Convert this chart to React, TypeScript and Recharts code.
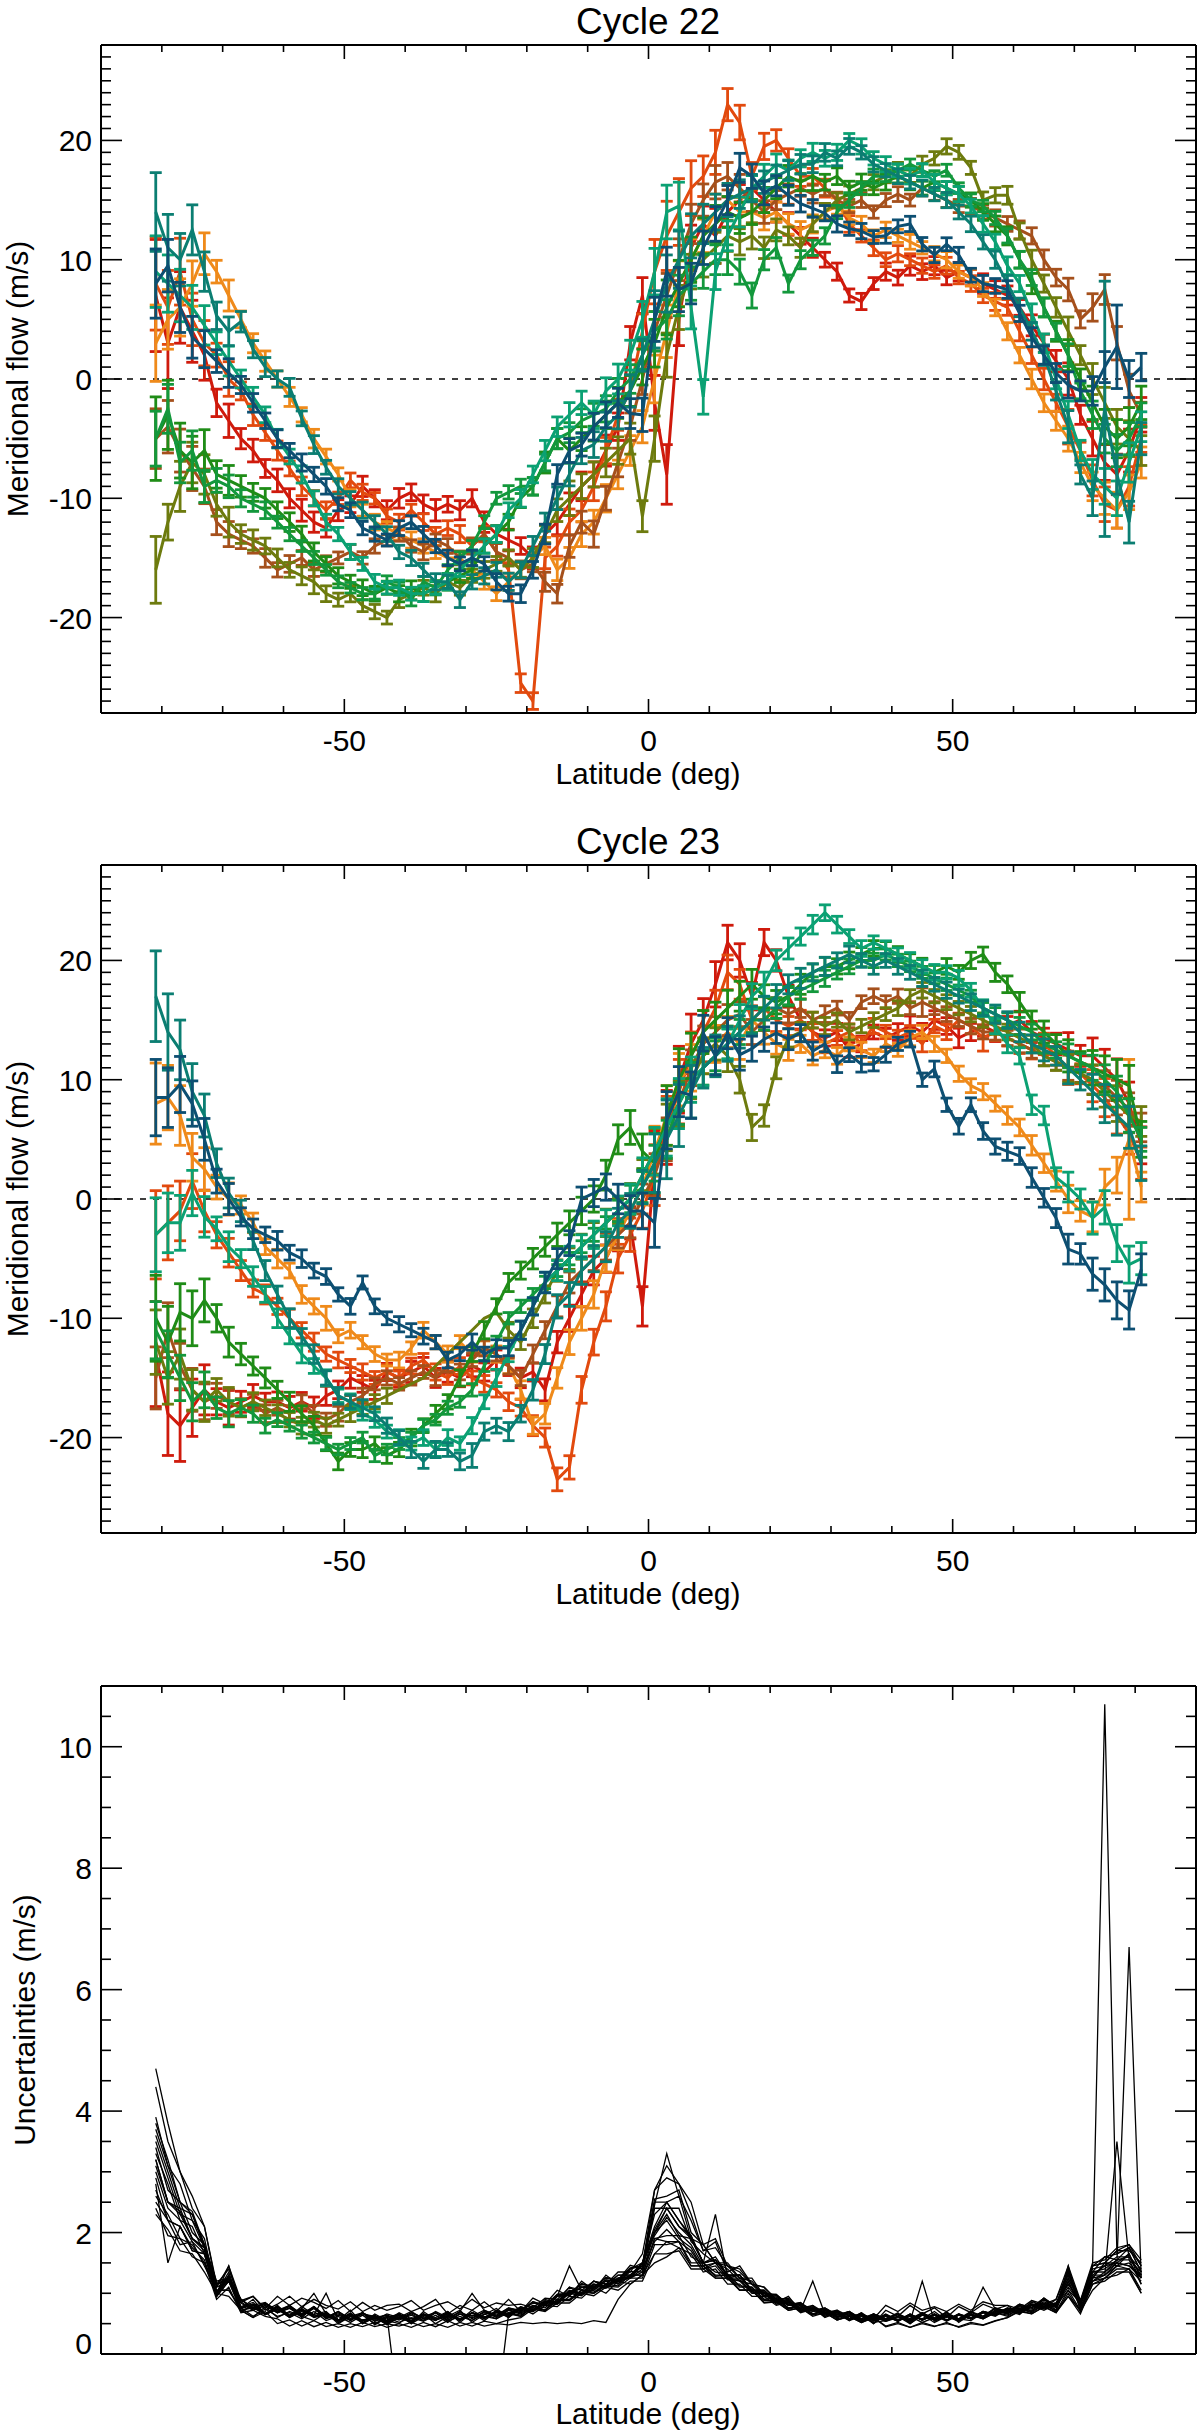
import React from 'react';
import { LineChart, Line, XAxis, YAxis, ErrorBar, ReferenceLine } from 'recharts';

const FONT = '"Liberation Sans", Arial, Helvetica, sans-serif';

const LATITUDES = [
  -81, -79, -77, -75, -73, -71, -69, -67, -65, -63,
  -61, -59, -57, -55, -53, -51, -49, -47, -45, -43,
  -41, -39, -37, -35, -33, -31, -29, -27, -25, -23,
  -21, -19, -17, -15, -13, -11, -9, -7, -5, -3,
  -1, 1, 3, 5, 7, 9, 11, 13, 15, 17,
  19, 21, 23, 25, 27, 29, 31, 33, 35, 37,
  39, 41, 43, 45, 47, 49, 51, 53, 55, 57,
  59, 61, 63, 65, 67, 69, 71, 73, 75, 77,
  79, 81,
];

// ---------- Cycle 22 meridional flow (m/s) ----------
const C22_RED = [
  7, 3, 6, 4, 2, -2, -3.5, -5, -6, -7.5,
  -8.5, -10, -11, -12, -12.5, -11, -10.5, -9, -10, -11,
  -10, -9.5, -10.5, -11, -10.5, -11, -10, -12, -13, -13.5,
  -14, -15, -13, -12, -10.5, -9, -8, -6, -4, 3,
  7, -2, -8, 5, 11, 13, 12, 14, 15, 16,
  15, 14, 13, 12, 11, 10, 9, 7, 6.5, 8,
  9, 8.5, 9.5, 9, 9.5, 8.5, 9, 8.5, 8, 7.5,
  7, 6, 4.5, 3, 1.5, 0, -3, -5, -7, -8,
  -6, -3,
];
const C22_ORANGERED = [
  8, 6, 9, 5, 3, 2, 0, -1, -3, -4.5,
  -6, -7.5, -9, -10, -11, -10, -8.5, -9.5, -10, -11.5,
  -12, -11, -12, -13, -12.5, -13, -14, -13, -14.5, -16,
  -25.5, -27, -15, -14, -12, -11, -9, -6, -3, -1,
  4, 9, 12, 14, 16, 17, 19, 23, 21.5, 17,
  19.5, 20, 18.5, 17, 17, 16, 15, 13, 12, 11,
  10, 10.5, 10, 9.5, 9, 9.5, 8.5, 8, 7, 6.5,
  6, 4, 2, 0, -2, -4, -6, -8.5, -10.5, -11,
  -9, -5,
];
const C22_ORANGE = [
  3, 5, 6, 8, 10.5, 9, 7, 5, 3, 1.5,
  0, -1.5, -3, -5, -6.5, -8, -10, -11, -12, -12.5,
  -13, -13.5, -14, -14.5, -15, -15, -16, -17, -18, -17,
  -16, -15, -14, -16, -15, -13, -12, -10, -8, -6,
  -4, 0, 4, 8, 10, 12, 14, 15, 14, 14,
  13.5, 14, 13, 12.5, 13, 14, 14.5, 13.5, 13, 12,
  12.5, 12, 11.5, 11, 10.5, 10, 9, 8.5, 7.5, 6,
  4, 2, 0, -2, -3.5, -5, -7, -9, -10, -11,
  -9.5, -7,
];
const C22_BROWN = [
  -5, -4, -6, -7.5, -9, -12, -13, -13.5, -14, -15,
  -16, -15.5, -15, -16, -15.5, -15, -14.5, -15, -14, -13.5,
  -13, -14, -14.5, -13.5, -14, -15, -14, -13, -14.5, -15,
  -16, -15.5, -17, -18, -14, -12, -13, -10, -7, -4,
  0, 4, 7, 10, 13, 15, 16.5, 17, 16, 15,
  14, 15, 15.5, 16, 15.5, 16, 15, 14.5, 15, 14,
  15, 15.5, 15, 16, 15.5, 15, 14.5, 14.5, 14, 13.5,
  13, 12.5, 12, 10, 8.5, 7.5, 5, 6, 7.5, 3,
  -1, -3,
];
const C22_OLIVE = [
  -16, -12, -9, -7, -8, -10.5, -12, -13, -13.5, -14,
  -15, -16, -16.5, -17, -18, -18.5, -18, -19, -19.5, -20,
  -18.5, -18, -17.5, -18, -17, -17.5, -16.5, -16, -15.5, -15,
  -16, -15, -13, -11, -10, -9, -8, -7, -6, -5,
  -11.5, -5, 2, 6, 9, 10, 11, 12, 11.5, 12,
  11, 12.5, 12, 11, 13, 14, 15, 15.5, 16, 16.5,
  17, 17.5, 17, 18, 18.5, 19.5, 19, 17.7, 15, 15.4,
  15.4, 12.4, 10, 8, 6, 4, 2, 0, -2, -4,
  -5, -6,
];
const C22_GREEN = [
  -5, -3, -6, -7, -6, -8, -8.5, -9, -9.5, -10,
  -11, -12, -13, -14.5, -15.5, -16.5, -17, -17.5, -18, -17.5,
  -18, -17.5, -18, -17.5, -17, -16.5, -16, -14, -13, -12,
  -10, -9, -7, -5, -6, -5, -4, -3, -2, -1,
  1, 3, 6, 8, 10, 12, 13, 14, 13.5, 14,
  15, 16, 17, 16.5, 17, 16.5, 17, 16, 16.5, 16,
  16.5, 17, 16.5, 16, 16.5, 16, 15.5, 15, 14, 13,
  12, 10, 8, 6, 4, 2, 0, -2, -4, -5,
  -4, -2,
];
const C22_GREEN2 = [
  -5, -2.5, -7, -6, -9, -8.5, -9, -10, -10.5, -11,
  -12, -13, -14, -15, -16, -17, -17.5, -18, -18, -17,
  -17.5, -18.5, -17, -17.5, -16, -15, -14, -12, -10, -9.5,
  -9, -9, -7, -5, -4.5, -3.5, -3, -2.5, -1, 0,
  2, 4, 5, 7, 8, 9, 10, 10, 9, 7,
  10, 11, 8, 10, 11, 12, 14, 15, 16, 17,
  17, 17.5, 18, 17.5, 17, 17.5, 16, 15, 14.5, 13.5,
  12, 10, 8.5, 6, 4, 2, -1, -3, -5, -6,
  -5, -3,
];
const C22_TEALGREEN = [
  9, 8, 7, 6, 4.5, 3, 1.5, 0, -1.5, -3,
  -5, -6.5, -8, -10, -12, -13, -14.5, -15.5, -17, -17.5,
  -17.5, -18, -18, -17.5, -17, -16, -15, -14, -13, -11,
  -10, -8, -6, -4, -3, -2, -3, -1, 0, 2,
  5, 9, 14, 14.5, 6, -1.5, 9, 12, 14, 16,
  17, 18, 17.5, 18.5, 19, 18.5, 19, 20, 19.5, 18.5,
  18, 17.5, 17, 17.5, 16.5, 16, 15.5, 14.5, 13, 11.5,
  9.5, 8, 5.5, 3, 0, -3, -6, -8, -9, -10,
  -7, -4,
];
const C22_TEAL = [
  14, 11, 10, 12.5, 9, 5.3, 4, 4.8, 2.5, 1,
  0, -0.7, -3.3, -5.5, -7.4, -9, -10, -11, -12, -13,
  -14.5, -15, -16, -17, -17, -18.5, -17, -16.5, -16, -17,
  -16, -14, -12, -10, -8, -6, -5.5, -4, -3, -1,
  2, 5, 8, 10, 12, 13, 14, 15, 15.5, 16,
  16.5, 17, 17.5, 18, 18, 19, 18.5, 19.5, 19, 18,
  17.5, 17, 16.5, 16, 15.5, 15, 14, 13, 11.5, 10,
  8, 6, 4, 2, -1, -4, -8, -10, -2.5, -8,
  -12, -5,
];
const C22_BLUE = [
  8, 9.5, 6, 3.5, 2.5, 1.5, 0.5, -0.5, -2, -3.5,
  -5, -6, -7, -8, -9, -10.5, -11, -12.5, -13, -13.5,
  -12.5, -12, -13, -14, -15, -15.5, -15, -15.5, -17, -18,
  -18, -16, -13, -8, -6, -5.5, -4, -3, -2, -2.9,
  -3, 5, 9, 7.5, 8, 11, 13, 15, 17.7, 17,
  15.6, 16.2, 15.4, 14.7, 14.3, 13.9, 13, 12.6, 12.4, 11.9,
  12, 12.8, 13, 11.3, 10.4, 11.3, 10.4, 8.7, 8, 7.8,
  7.5, 5.5, 3.5, 2, 0.5, -0.5, -1, -1, 1, 2.7,
  0, 1,
];

// ---------- Cycle 23 meridional flow (m/s) ----------
const C23_RED = [
  -13, -18, -19, -17.5, -16, -17, -17.5, -17, -16.5, -17,
  -17, -17.5, -17, -17.5, -16.5, -16, -15, -15.5, -16, -14.5,
  -15, -14.5, -14, -15, -14.5, -15, -14, -14.5, -13.5, -14,
  -15, -14.5, -16, -12, -10, -8, -6, -5, -3, -2,
  -9, 3, 6, 10, 13, 15, 18, 21.5, 20, 17,
  21.5, 20, 17, 15, 14, 13.5, 14, 12.5, 13, 14,
  13.5, 14, 14.5, 14, 15, 14.5, 13.5, 14, 14.5, 14,
  14.5, 15, 14, 13.5, 13, 12.5, 12, 12, 11, 10,
  8, 4.5,
];
const C23_ORANGERED = [
  -3, -2, -1, 1.5, -1, -3, -4.5, -6, -7.5, -8,
  -9, -10, -11, -12, -13, -13.5, -14, -14.5, -15, -14.5,
  -15, -14, -13.5, -14.5, -15, -14, -15, -15.5, -16, -17,
  -17.5, -19, -20, -23.5, -22.5, -16, -12, -9, -5, -3,
  -1, 2, 6, 9, 12, 14, 16, 19, 18, 15,
  16, 15, 14.5, 15, 14, 13, 13.5, 14, 13, 14.5,
  14, 13.5, 14, 13, 14.5, 14, 15, 14.5, 13.5, 14,
  13.5, 13, 12.5, 13, 12, 11, 10.5, 9.5, 8.5, 7,
  5.5, 3,
];
const C23_ORANGE = [
  8, 8.5, 7, 3.5, 2.5, 1, 0, -0.5, -2, -4,
  -5, -6, -8, -9, -10, -11.5, -11, -12, -13, -13.5,
  -13.5, -12.5, -11, -12, -13, -12, -13, -12.5, -13, -14,
  -16, -19, -18, -15, -12, -10, -8, -5, -3, -1,
  1, 4, 7, 10, 11, 12, 13, 14, 13, 15,
  14, 13, 12.5, 13, 12, 12.5, 12, 13, 12.5, 12,
  13, 12.5, 13.5, 14, 13, 12, 10.5, 9.5, 9, 8,
  7, 6, 4.5, 3, 1.5, 0, -1, -1.5, 1, 2,
  5, 1,
];
const C23_BROWN = [
  -15, -11, -14, -16, -17, -16.5, -17, -17.5, -17, -18,
  -17.5, -18, -17, -18, -18.5, -18, -17, -16.5, -15.5, -15,
  -15.5, -15, -14.5, -15, -14, -14.5, -13.5, -12.5, -13, -14,
  -15, -13, -11, -9, -7, -6, -5, -4, -3, -2,
  0, 2, 5, 8, 11, 13, 14, 15, 15.5, 14,
  15, 16, 15.5, 16, 15, 15.5, 16, 15, 16.5, 17,
  16.5, 17, 16, 16.5, 16, 15.5, 15, 14.5, 14, 14,
  13.5, 13, 12.5, 12, 11.5, 11, 10.5, 10, 9.5, 8.5,
  7.5, 6,
];
const C23_OLIVE = [
  -12, -15, -13, -16, -17, -16, -17, -17.5, -17, -17.5,
  -18, -18.5, -19, -18.5, -19, -18.5, -18, -17.5, -17, -16.5,
  -16, -15.5, -15, -14, -13, -12, -11, -10, -9.5, -11,
  -12, -10, -8, -6, -5, -4, -3, -2, -1, 0,
  2, 4, 6, 8, 10, 12, 13, 12, 10, 6,
  7, 11, 13.5, 14, 15, 14.5, 15, 14, 14.5, 15,
  15.5, 16, 17, 17.5, 17, 16.5, 16, 15.5, 15, 14.5,
  14, 13.5, 13, 12, 11.5, 11, 10.5, 10, 9, 8,
  7, 6.5,
];
const C23_GREEN = [
  -10, -12, -9.5, -10, -8.5, -10, -12, -13, -14, -15,
  -16, -17, -18, -19, -20.5, -22, -21, -21, -20.5, -21.5,
  -21, -20, -19, -18, -17, -15, -13, -11, -9, -7,
  -6, -5, -4, -3, -2, -1, 0, 2, 5, 6,
  4, 3, 7, 10, 12, 14, 15, 16, 17, 18,
  17, 16.5, 17, 18, 19, 19.5, 19.5, 20, 20.5, 21,
  21, 20.5, 20, 19.5, 19, 19.5, 19, 20, 20.5, 19,
  18, 16.5, 15, 14, 13, 12, 11.5, 11, 10.5, 10,
  9.5, 5,
];
const C23_GREEN2 = [
  -11, -13, -15, -17, -16, -17.5, -18, -17.5, -18, -19,
  -18.5, -19, -19.5, -20, -20.5, -21, -20.5, -20, -21.5, -21,
  -20.5, -20, -19, -18.5, -17.5, -17, -16, -14, -12, -10,
  -9, -8, -7, -6, -5, -4, -3, -2, -1, 0,
  1, 3, 5, 8, 10, 11, 12, 13, 14, 15,
  15, 16, 17, 17.5, 18, 18.5, 19, 19.5, 20, 20,
  20.5, 20, 19.5, 19, 18.5, 18, 17.5, 17, 16, 15.5,
  15, 14.5, 14, 13, 12.5, 12, 11.5, 11, 10, 9,
  7, 5,
];
const C23_TEALGREEN = [
  -3, -2, -2, 0.5, -1.5, -2.5, -4, -5, -6.5, -8,
  -10, -11.5, -13, -14, -15, -16.5, -17, -18, -18.5, -19.5,
  -20, -20.5, -20, -21, -20, -20.5, -19, -17, -15, -13,
  -11, -9, -7, -6, -5, -4, -3, -2, -1, 0,
  2, 4, 6, 8, 10, 11, 12, 13, 15, 17,
  18, 20, 21, 22, 23, 24, 23, 22, 21, 21.5,
  21, 20.5, 20, 19.5, 19, 19, 18.5, 17.5, 16, 14.5,
  13, 12, 7.9, 7, 1.8, 1, 0, -1.6, -0.7, -3.7,
  -5.5, -5,
];
const C23_TEAL = [
  17, 14, 12.5, 9, 7, 3, 0.5, -1, -3.5, -6,
  -8, -10, -11.5, -13, -15, -16.5, -17, -17.5, -18, -19,
  -20, -21, -22, -21, -21, -22, -21.5, -19.5, -19, -19.5,
  -18, -16, -13, -9, -8, -6, -5, -4, -2, -1,
  1, 3, 5, 7, 9, 11, 12, 13, 14, 15,
  16, 17, 18, 18.5, 19, 19.5, 20, 20.5, 20, 19.5,
  20, 19.5, 19, 18.5, 18, 17.5, 17, 16.5, 16, 15.5,
  15, 14, 13, 12.5, 12, 11, 10, 9, 8, 7,
  6, 3,
];
const C23_BLUE = [
  8.5, 8.5, 9.6, 8, 5, 1.5, 0, -1.5, -2.5, -3,
  -3.5, -4.5, -5, -6, -6.5, -8, -9, -7, -9, -10,
  -10.5, -11, -11.5, -12, -13.5, -13, -12, -13, -12.5, -12.5,
  -11, -9, -7, -5, -3.7, 0, 0.5, 1, 0, -1,
  -1, -2, 6.6, 9, 8.7, 13.9, 12, 13.9, 12.1, 12.6,
  13.4, 13.9, 13.4, 13.9, 12.4, 13, 11.3, 12.1, 11.3, 11.3,
  12.1, 13, 13.4, 10, 10.9, 7.9, 6.1, 7.9, 5.7, 4.4,
  4, 3.6, 1.8, 0.1, -1.6, -4.2, -4.6, -6.3, -7.2, -8.5,
  -9.3, -5.9,
];

// ---------- Uncertainties (m/s), cycle 22 ----------
const U22_RED = [
  4.7, 3.8, 3.0, 2.6, 2.1, 1.15, 1.4, .85, .95, .75,
  .95, .8, .92, .85, .75, .88, .7, .85, .72, .8,
  .82, .7, .78, .9, .66, .8, .72, .86, .7, .9,
  .7, .92, .82, 1.05, .95, 1.2, 1.05, 1.3, 1.15, 1.4,
  1.5, 2.3, 2.5, 2.2, 1.9, 1.5, 2.3, 1.25, 1.3, 1.05,
  1.05, .85, .95, .7, .8, .62, .72, .55, .68, .5,
  .72, .62, .8, .66, .76, .6, .78, .68, .82, .74,
  .8, .66, .88, .75, .9, 1.35, .8, 1.45, 1.5, 1.7,
  1.8, 1.45,
];
const U22_ORANGERED = [
  3.9, 3.1, 2.8, 2.2, 1.9, 1.0, 1.45, .75, .9, .65,
  .8, .62, .78, .65, .7, .52, .62, .68, .48, .6,
  .66, .5, .7, .56, .62, .72, .52, .65, .75, .6,
  .78, .7, .9, .85, 1.1, .98, 1.2, 1.1, 1.3, 1.3,
  1.45, 2.7, 2.9, 2.8, 2.3, 1.7, 1.85, 1.35, 1.45, 1.15,
  1.1, .9, .8, .85, .65, .75, .6, .7, .52, .66,
  .58, .68, .5, .64, .56, .7, .52, .66, .6, .75,
  .66, .8, .7, .9, .72, 1.45, .7, 1.3, 1.45, 1.5,
  1.65, 1.15,
];
const U22_ORANGE = [
  3.2, 2.5, 2.4, 1.9, 1.75, .95, 1.3, .7, .8, .85,
  .68, .8, .6, .78, .62, .55, .72, .5, .66, .55,
  .5, .68, .6, .55, .7, .52, .68, .62, .58, .72,
  .66, .8, .72, .9, .88, 1.05, 1.0, 1.15, 1.2, 1.25,
  1.35, 2.0, 2.2, 1.9, 1.75, 1.4, 1.5, 1.25, 1.2, 1.0,
  1.0, .82, .86, .7, .76, .6, .68, .58, .64, .5,
  .65, .55, .62, .52, .6, .68, .55, .7, .58, .7,
  .72, .65, .82, .74, .8, 1.05, .85, 1.2, 1.35, 1.5,
  1.45, 1.3,
];
const U22_BROWN = [
  2.5, 2.2, 1.8, 1.85, 1.45, 1.05, 1.05, .72, .6, .78,
  .6, .7, .62, .55, .68, .5, .62, .52, .6, .48,
  .6, .52, .66, .5, .62, .58, .68, .55, .7, .6,
  .75, .66, .8, .78, .95, .92, 1.1, 1.0, 1.2, 1.15,
  1.3, 1.65, 1.85, 1.75, 1.65, 1.35, 1.4, 1.15, 1.15, .95,
  .95, .8, .85, .68, .74, .62, .66, .55, .62, .52,
  .55, .62, .5, .65, .52, .62, .55, .64, .58, .68,
  .62, .75, .68, .82, .7, .95, .72, 1.15, 1.25, 1.4,
  1.4, 1.05,
];
const U22_OLIVE = [
  2.8, 1.5, 2.1, 1.7, 1.65, 1.0, 1.25, .78, .85, .66,
  .75, .62, .75, 1.0, .66, .55, .68, .5, .6, .54,
  .66, .5, .62, .68, .54, .62, .55, .7, .62, .68,
  .62, .8, .72, .95, 1.45, 1.05, 1.05, 1.2, 1.15, 1.3,
  1.3, 1.9, 1.85, 1.85, 1.45, 1.45, 1.3, 1.3, 1.1, 1.1,
  .9, .92, .75, .8, .65, .72, .6, .68, .55, .64,
  .55, .66, .52, .68, .56, .64, .58, .55, .68, .64,
  .75, .68, .8, .72, .82, 1.2, .8, 1.3, 1.3, 1.45,
  1.5, 1.25,
];
const U22_GREEN = [
  3.5, 2.9, 2.3, 2.2, 1.75, 1.15, 1.25, .9, .75, .82,
  .7, .78, .66, .76, .6, .68, .55, .66, .62, .55,
  .68, .58, .65, .6, .7, .56, .72, .6, .7, .66,
  .78, .72, .88, .85, 1.05, 1.0, 1.2, 1.15, 1.3, 1.3,
  1.5, 2.0, 2.3, 1.95, 1.9, 1.5, 1.55, 1.3, 1.3, 1.05,
  1.05, .88, .9, .72, 1.2, .66, .7, .58, .68, .55,
  .66, .56, .64, .58, .7, .55, .66, .6, .7, .66,
  .76, .7, .85, .8, .84, 1.3, .84, 1.4, 1.45, 1.6,
  1.6, 1.4,
];
const U22_GREEN2 = [
  2.3, 2.05, 1.7, 1.65, 1.35, 1.0, .95, .72, .6, .7,
  .5, .56, .46, .55, .45, .5, .44, .52, .45, .5,
  .46, .52, .45, .5, .44, .52, .46, .54, .5, .56,
  .6, .74, .7, .84, .84, 1.0, .96, 1.1, 1.05, 1.2,
  1.2, 1.65, 1.65, 1.7, 1.4, 1.4, 1.25, 1.25, 1.05, 1.05,
  .85, .86, .72, .76, .64, .68, .56, .62, .52, .6,
  .45, .5, .44, .52, .46, .5, .45, .52, .48, .55,
  .6, .7, .66, .78, .68, .95, .66, 1.15, 1.2, 1.35,
  1.35, 1.0,
];
const U22_TEALGREEN = [
  3.0, 2.4, 2.2, 1.85, 1.65, .95, 1.25, .75, .8, .66,
  .78, .62, .72, .62, .66, .56, .64, .55, .62, .52,
  .64, .54, .66, .56, .68, .55, .68, .6, .7, .62,
  .74, .7, .85, .82, 1.02, .98, 1.15, 1.1, 1.25, 1.25,
  1.5, 1.95, 2.25, 2.0, 1.8, 1.45, 1.5, 1.25, 1.25, 1.05,
  1.0, .86, .86, .72, .76, .66, .68, .58, .64, .56,
  .64, .54, .65, .56, .66, .56, .64, .58, .7, .64,
  .74, .68, .8, .78, .82, 1.15, .86, 1.25, 1.5, 1.45,
  1.65, 1.25,
];
const U22_TEAL = [
  3.3, 2.8, 2.2, 2.1, 1.65, 1.15, 1.2, .86, .72, .8,
  .68, .75, .62, .75, .58, .64, .56, .68, .54, .62,
  .56, .64, .55, .68, .56, .66, .6, .68, .62, .72,
  .68, .8, .76, .95, .96, 1.1, 1.08, 1.22, 1.18, 1.36,
  1.35, 2.4, 2.4, 2.4, 1.85, 1.65, 1.5, 1.4, 1.2, 1.15,
  .94, .94, .8, .82, .7, .74, .62, .66, .56, .64,
  .56, .62, .56, .66, .56, .64, .58, .65, .6, .72,
  .68, .78, .74, .86, .76, 1.35, .8, 1.45, 10.7, 1.65,
  1.75, 1.35,
];
const U22_BLUE = [
  2.9, 2.2, 2.1, 1.75, 1.55, .95, 1.2, .72, .78, .65,
  .74, .6, .72, .6, .65, .55, .62, .56, .6, .5,
  .62, .54, .64, .56, .64, .58, .64, .6, .68, .62,
  .74, .7, .82, .82, 1.0, .96, 1.12, 1.08, 1.22, 1.25,
  1.4, 1.85, 2.05, 1.85, 1.7, 1.4, 1.45, 1.22, 1.22, 1.02,
  1.0, .84, .84, .7, .74, .64, .68, .56, .64, .54,
  .62, .54, .64, .56, .64, .54, .64, .58, .68, .62,
  .74, .68, .8, .76, .8, 1.1, .84, 1.2, 1.3, 3.5,
  1.55, 1.15,
];

// ---------- Uncertainties (m/s), cycle 23 ----------
const U23_RED = [
  4.4, 3.5, 3.0, 2.4, 2.1, 1.1, 1.45, .88, .95, .72,
  .82, .95, .78, .9, .8, .74, .86, .7, .8, .72,
  .78, .88, .72, .8, .86, .74, .9, .76, .84, .8,
  .82, .76, .92, .9, 1.1, 1.05, 1.2, 1.15, 1.35, 1.35,
  1.65, 2.7, 3.1, 2.8, 2.5, 1.8, 1.9, 1.45, 1.4, 1.15,
  1.1, .9, .92, .75, .8, .68, .72, .62, .66, .58,
  .8, .7, .84, .72, .78, .7, .82, .72, .86, .8,
  .8, .74, .88, .82, .9, 1.45, .88, 1.5, 1.55, 1.75,
  1.8, 1.55,
];
const U23_ORANGERED = [
  3.7, 3.1, 2.5, 2.3, 1.75, 1.1, 1.2, .84, .72, .8,
  .68, .76, .64, .76, .6, .66, .55, .68, .54, .62,
  .58, .66, .55, .68, .55, .7, .58, .7, .6, .74,
  .7, .84, .8, .96, .98, 1.12, 1.08, 1.22, 1.2, 1.4,
  1.45, 2.55, 2.6, 2.7, 2.0, 1.8, 1.5, 1.45, 1.25, 1.2,
  .95, .96, .8, .82, .7, .74, .62, .68, .56, .64,
  .56, .65, .54, .66, .56, .64, .58, .66, 1.1, .74,
  .68, .8, .76, .9, .78, 1.4, .84, 1.35, 1.6, 1.55,
  1.75, 1.35,
];
const U23_ORANGE = [
  3.4, 2.7, 2.5, 2.0, 1.8, 1.0, 1.35, .76, .82, .66,
  .78, .62, .74, .64, 1.0, .55, .66, .55, .62, .5,
  .66, .52, .66, .56, .68, .55, .68, .6, .68, .64,
  .76, .72, .86, .86, 1.04, 1.0, 1.15, 1.12, 1.25, 1.28,
  1.5, 2.1, 2.5, 2.2, 1.95, 1.5, 1.55, 1.3, 1.3, 1.05,
  1.02, .86, .88, .72, .76, .66, .7, .58, .64, .56,
  .64, .54, .65, .56, .64, .56, .64, .58, .68, .64,
  .74, .7, .82, .78, .84, 1.15, .86, 1.25, 1.5, 1.5,
  6.7, 1.25,
];
const U23_BROWN = [
  2.6, 2.3, 1.9, 1.8, 1.5, 1.05, 1.05, .76, .62, .74,
  .62, .68, .58, .7, .55, .62, .52, .64, .5, .6,
  .52, .6, .54, .64, .52, .66, .55, .66, .58, .68,
  .64, .76, .72, .88, .88, 1.02, 1.0, 1.12, 1.1, 1.25,
  1.25, 1.8, 1.8, 1.85, 1.5, 1.5, 1.28, 1.3, 1.05, 1.05,
  .88, .88, .74, .78, .66, .7, .58, .64, .54, .62,
  .54, .6, .54, 1.2, .54, .62, .54, .64, .58, .68,
  .64, .74, .7, .82, .7, 1.05, .72, 1.2, 1.25, 1.45,
  1.4, 1.2,
];
const U23_OLIVE = [
  2.7, 2.2, 2.1, 1.7, 1.65, .95, 1.2, .72, .76, .65,
  .74, .6, .7, .62, .64, .54, .66, .55, .6, .64,
  -1, -1, -1, -1, -1, -1, -1, -1, -1, .66,
  .62, .78, .72, .9, .9, 1.05, 1.02, 1.15, 1.12, 1.3,
  1.3, 1.9, 1.95, 1.95, 1.6, 1.5, 1.35, 1.32, 1.12, 1.1,
  .9, .92, .76, .8, .66, .72, .6, .66, .56, .62,
  .54, .62, .55, .65, .56, .62, .56, .64, .6, .7,
  .66, .76, .72, .84, .72, 1.2, .76, 1.25, 1.3, 1.5,
  1.45, 1.25,
];
const U23_GREEN = [
  3.6, 3.0, 2.4, 2.3, 1.8, 1.15, 1.25, .9, .76, .84,
  .72, .8, .66, .78, .6, .7, .58, .68, .56, .66,
  .6, .7, .58, .7, .6, .68, .62, .72, .64, .76,
  .72, .86, .8, .98, 1.0, 1.15, 1.1, 1.25, 1.22, 1.42,
  1.45, 2.5, 2.5, 2.6, 1.9, 1.8, 1.5, 1.5, 1.25, 1.25,
  .96, .98, .82, .84, .7, .76, .64, .7, .58, .66,
  .58, .66, .56, .68, .58, .66, .58, .68, .62, .76,
  .7, .82, .76, .92, .78, 1.35, .86, 1.45, 1.5, 1.7,
  1.7, 1.5,
];
const U23_GREEN2 = [
  2.4, 1.95, 1.9, 1.6, 1.5, .9, 1.1, .68, .72, .62,
  .58, .46, .55, .45, .52, .44, .5, .45, .52, .44,
  .5, .44, .52, .45, .55, .46, .52, .46, .5, .48,
  .52, .5, .52, .5, .52, .5, .55, .52, .9, 1.15,
  1.3, 1.5, 1.6, 1.75, 1.45, 1.45, 1.25, 1.25, 1.05, 1.05,
  .84, .86, .72, .76, .62, .68, .56, .62, .52, .6,
  .46, .52, .44, .5, .45, .52, .44, .5, .47, .54,
  .6, .72, .66, .78, .68, 1.0, .7, 1.05, 1.25, 1.3,
  1.4, 1.0,
];
const U23_TEALGREEN = [
  3.1, 2.5, 2.3, 1.9, 1.7, 1.0, 1.25, .76, .82, .66,
  .78, .64, .74, .62, .68, .56, .66, .54, .64, .54,
  .66, .55, .66, .58, .66, .56, .68, .58, .72, .64,
  .76, .72, .86, .84, 1.04, 1.0, 1.15, 1.1, 1.25, 1.26,
  1.45, 2.0, 2.4, 2.1, 1.9, 1.5, 1.55, 1.28, 1.3, 1.05,
  1.02, .86, .88, .72, .78, .66, .7, .58, .66, .56,
  .64, .55, .66, .56, .66, .56, .66, .58, .7, .64,
  .74, .68, .82, .78, .82, 1.25, .84, 1.35, 1.4, 1.55,
  1.55, 1.35,
];
const U23_TEAL = [
  3.8, 3.2, 2.5, 2.35, 1.8, 1.2, 1.25, .9, .74, .84,
  .7, .8, .64, .78, .6, .7, .56, .68, .58, .64,
  .58, .68, .58, .68, .58, .7, 1.0, .72, .62, .76,
  .7, .86, .8, .98, 1.0, 1.16, 1.1, 1.26, 1.22, 1.46,
  1.4, 2.45, 3.3, 2.6, 2.2, 1.7, 1.75, 1.45, 1.35, 1.15,
  1.0, .98, .8, .84, .72, .76, .64, .7, .58, .66,
  .58, .66, .58, .68, .58, .68, .58, .7, .62, .76,
  .7, .82, .76, .92, .78, 1.35, .86, 1.45, 1.6, 1.65,
  1.75, 1.45,
];
const U23_BLUE = [
  3.2, 2.5, 2.35, 1.9, 1.75, 1.0, 1.3, .76, .82, .65,
  .78, .62, .74, .62, .66, .56, .66, .55, .62, .54,
  .64, .55, .66, .56, .66, .55, .68, .58, .7, .64,
  .76, .72, .86, .84, 1.04, 1.0, 1.14, 1.1, 1.24, 1.28,
  1.5, 2.05, 2.4, 2.1, 1.95, 1.5, 1.6, 1.3, 1.3, 1.05,
  1.02, .86, .88, .72, .76, .66, .7, .58, .66, .56,
  .64, .55, .66, .56, .66, .56, .66, .58, .7, .64,
  .76, .7, .82, .78, .8, 1.25, .86, 1.35, 1.35, 1.55,
  1.6, 1.3,
];

const SERIES_COLORS = ['#cf1a0c', '#e24a0e', '#ef8a1a', '#a5501c', '#6d7b0e', '#1f8c17', '#13983c', '#0ba173', '#0b7e72', '#0d4f72'];

const C22_FLOWS = [C22_RED, C22_ORANGERED, C22_ORANGE, C22_BROWN, C22_OLIVE, C22_GREEN, C22_GREEN2, C22_TEALGREEN, C22_TEAL, C22_BLUE];
const C22_ERRS = [U22_RED, U22_ORANGERED, U22_ORANGE, U22_BROWN, U22_OLIVE, U22_GREEN, U22_GREEN2, U22_TEALGREEN, U22_TEAL, U22_BLUE];
const C23_FLOWS = [C23_RED, C23_ORANGERED, C23_ORANGE, C23_BROWN, C23_OLIVE, C23_GREEN, C23_GREEN2, C23_TEALGREEN, C23_TEAL, C23_BLUE];
const C23_ERRS = [U23_RED, U23_ORANGERED, U23_ORANGE, U23_BROWN, U23_OLIVE, U23_GREEN, U23_GREEN2, U23_TEALGREEN, U23_TEAL, U23_BLUE];

const X_TICKS = [-80, -70, -60, -50, -40, -30, -20, -10, 0, 10, 20, 30, 40, 50, 60, 70, 80];
const X_MAJOR = [-50, 0, 50];
const FLOW_TICKS = [
  -27, -26, -25, -24, -23, -22, -21, -20, -19, -18, -17, -16, -15, -14, -13, -12, -11, -10,
  -9, -8, -7, -6, -5, -4, -3, -2, -1, 0, 1, 2, 3, 4, 5, 6, 7, 8, 9,
  10, 11, 12, 13, 14, 15, 16, 17, 18, 19, 20, 21, 22, 23, 24, 25, 26, 27,
];
const FLOW_MAJOR = [-20, -10, 0, 10, 20];
const UNC_TICKS = [0, 0.5, 1, 1.5, 2, 2.5, 3, 3.5, 4, 4.5, 5, 5.5, 6, 6.5, 7, 7.5, 8, 8.5, 9, 9.5, 10, 10.5];
const UNC_MAJOR = [0, 2, 4, 6, 8, 10];

const CHART_W = 1200;
const CHART_H = 800;
const MARGIN = { top: 40, right: 0, bottom: 7, left: 41 };
const AXIS_STROKE = { stroke: '#000', strokeWidth: 2 };

function rows(values: number[], errs: number[]) {
  return LATITUDES.map((lat, i) => ({ lat, v: values[i], e: Math.max(errs[i], 0) }));
}
function plainRows(values: number[]) {
  return LATITUDES.map((lat, i) => ({ lat, v: values[i] }));
}

function makeTick(side: string, majors: number[], majorLen: number, minorLen: number, labels: boolean, bottomZero = false) {
  return (props: any) => {
    const { x, y, payload } = props;
    const val = payload.value;
    const isMajor = majors.includes(val);
    const len = isMajor ? majorLen : minorLen;
    let line = null;
    let label = null;
    if (side === 'bottom') {
      line = <line x1={x} x2={x} y1={y} y2={y - len} stroke="#000" strokeWidth={1.6} />;
      if (labels && isMajor) {
        label = (
          <text x={x} y={y + 38} textAnchor="middle" fontSize={30} fontFamily={FONT} fill="#000">
            {String(val)}
          </text>
        );
      }
    } else if (side === 'top') {
      line = <line x1={x} x2={x} y1={y} y2={y + len} stroke="#000" strokeWidth={1.6} />;
    } else if (side === 'left') {
      line = <line x1={x} x2={x + len} y1={y} y2={y} stroke="#000" strokeWidth={1.6} />;
      if (labels && isMajor) {
        const ty = bottomZero && val === 0 ? y : y + 11;
        label = (
          <text x={x - 9} y={ty} textAnchor="end" fontSize={30} fontFamily={FONT} fill="#000">
            {String(val)}
          </text>
        );
      }
    } else {
      line = <line x1={x} x2={x - len} y1={y} y2={y} stroke="#000" strokeWidth={1.6} />;
    }
    return (
      <g>
        {line}
        {label}
      </g>
    );
  };
}

const xBottomTick = makeTick('bottom', X_MAJOR, 14, 7, true);
const xTopTick = makeTick('top', X_MAJOR, 14, 7, false);
const flowLeftTick = makeTick('left', FLOW_MAJOR, 21, 10, true);
const flowRightTick = makeTick('right', FLOW_MAJOR, 21, 10, false);
const uncLeftTick = makeTick('left', UNC_MAJOR, 21, 10, true, true);
const uncRightTick = makeTick('right', UNC_MAJOR, 21, 10, false);

function FlowPanel({ flows, errs, top }: { flows: number[][]; errs: number[][]; top: number }) {
  return (
    <div style={{ position: 'absolute', left: 0, top }}>
      <LineChart width={CHART_W} height={CHART_H} margin={MARGIN}>
        <XAxis dataKey="lat" type="number" domain={[-90, 90]} allowDataOverflow ticks={X_TICKS} interval={0}
          tick={xBottomTick} tickLine={false} tickSize={0} tickMargin={0} height={80} axisLine={AXIS_STROKE} />
        <XAxis xAxisId="top" orientation="top" dataKey="lat" type="number" domain={[-90, 90]} allowDataOverflow ticks={X_TICKS} interval={0}
          tick={xTopTick} tickLine={false} tickSize={0} tickMargin={0} height={5} axisLine={AXIS_STROKE} />
        <YAxis type="number" domain={[-28, 28]} allowDataOverflow ticks={FLOW_TICKS} interval={0}
          tick={flowLeftTick} tickLine={false} tickSize={0} tickMargin={0} width={60} axisLine={AXIS_STROKE} />
        <YAxis yAxisId="right" orientation="right" type="number" domain={[-28, 28]} allowDataOverflow ticks={FLOW_TICKS} interval={0}
          tick={flowRightTick} tickLine={false} tickSize={0} tickMargin={0} width={4} axisLine={AXIS_STROKE} />
        <ReferenceLine y={0} stroke="#000" strokeWidth={1.6} strokeDasharray="6 7" />
        {flows.map((f, k) => (
          <Line key={k} data={rows(f, errs[k])} dataKey="v" stroke={SERIES_COLORS[k]} strokeWidth={3}
            dot={false} activeDot={false} isAnimationActive={false}>
            <ErrorBar dataKey="e" direction="y" width={6} stroke={SERIES_COLORS[k]} strokeWidth={2.8} isAnimationActive={false} />
          </Line>
        ))}
      </LineChart>
    </div>
  );
}

function UncertaintyPanel({ errs, top }: { errs: number[][]; top: number }) {
  return (
    <div style={{ position: 'absolute', left: 0, top }}>
      <LineChart width={CHART_W} height={CHART_H} margin={MARGIN}>
        <XAxis dataKey="lat" type="number" domain={[-90, 90]} allowDataOverflow ticks={X_TICKS} interval={0}
          tick={xBottomTick} tickLine={false} tickSize={0} tickMargin={0} height={80} axisLine={AXIS_STROKE} />
        <XAxis xAxisId="top" orientation="top" dataKey="lat" type="number" domain={[-90, 90]} allowDataOverflow ticks={X_TICKS} interval={0}
          tick={xTopTick} tickLine={false} tickSize={0} tickMargin={0} height={5} axisLine={AXIS_STROKE} />
        <YAxis type="number" domain={[0, 11]} allowDataOverflow ticks={UNC_TICKS} interval={0}
          tick={uncLeftTick} tickLine={false} tickSize={0} tickMargin={0} width={60} axisLine={AXIS_STROKE} />
        <YAxis yAxisId="right" orientation="right" type="number" domain={[0, 11]} allowDataOverflow ticks={UNC_TICKS} interval={0}
          tick={uncRightTick} tickLine={false} tickSize={0} tickMargin={0} width={4} axisLine={AXIS_STROKE} />
        {errs.map((u, k) => (
          <Line key={k} data={plainRows(u)} dataKey="v" stroke="#000" strokeWidth={1.3}
            dot={false} activeDot={false} isAnimationActive={false} />
        ))}
      </LineChart>
    </div>
  );
}

export default function App() {
  const allErrs = [...C22_ERRS, ...C23_ERRS];
  const txt = { fontFamily: FONT, fill: '#000' } as const;
  return (
    <div style={{ position: 'absolute', left: 0, top: 0, width: 1200, height: 2432, background: '#fff', overflow: 'hidden' }}>
      <FlowPanel flows={C22_FLOWS} errs={C22_ERRS} top={0} />
      <FlowPanel flows={C23_FLOWS} errs={C23_ERRS} top={820} />
      <UncertaintyPanel errs={allErrs} top={1641} />
      <svg width={1200} height={2432} style={{ position: 'absolute', left: 0, top: 0, pointerEvents: 'none' }}>
        <text x={648} y={34} textAnchor="middle" fontSize={37} {...txt}>Cycle 22</text>
        <text x={648} y={784} textAnchor="middle" fontSize={30} {...txt}>Latitude (deg)</text>
        <text x={28} y={379} textAnchor="middle" fontSize={30} transform="rotate(-90 28 379)" {...txt}>Meridional flow (m/s)</text>
        <text x={648} y={854} textAnchor="middle" fontSize={37} {...txt}>Cycle 23</text>
        <text x={648} y={1604} textAnchor="middle" fontSize={30} {...txt}>Latitude (deg)</text>
        <text x={28} y={1199} textAnchor="middle" fontSize={30} transform="rotate(-90 28 1199)" {...txt}>Meridional flow (m/s)</text>
        <text x={648} y={2424} textAnchor="middle" fontSize={30} {...txt}>Latitude (deg)</text>
        <text x={35} y={2020} textAnchor="middle" fontSize={30} transform="rotate(-90 35 2020)" {...txt}>Uncertainties (m/s)</text>
      </svg>
    </div>
  );
}
